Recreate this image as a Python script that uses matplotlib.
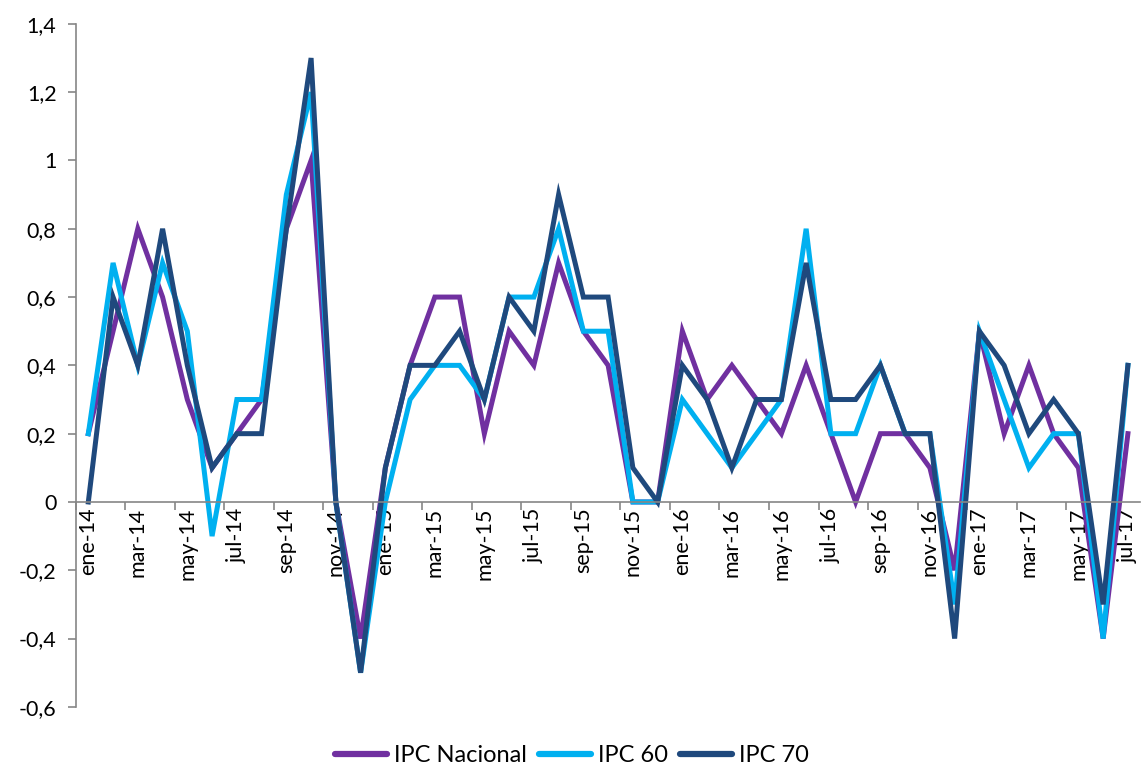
import matplotlib
matplotlib.use('Agg')
import matplotlib.pyplot as plt
from matplotlib.ticker import FuncFormatter, FixedLocator
import numpy as np

plt.rcParams['font.family'] = ['Lato', 'DejaVu Sans']

# Data
months = ['ene', 'feb', 'mar', 'abr', 'may', 'jun', 'jul', 'ago', 'sep', 'oct', 'nov', 'dic']
years = ['14', '15', '16', '17']
categories = [f'{m}-{y}' for y in years for m in months][:43]

ipc_nacional = [0.2, 0.5, 0.8, 0.6, 0.3, 0.1, 0.2, 0.3, 0.8, 1.0, 0.0, -0.4,
                0.1, 0.4, 0.6, 0.6, 0.2, 0.5, 0.4, 0.7, 0.5, 0.4, 0.0, 0.0,
                0.5, 0.3, 0.4, 0.3, 0.2, 0.4, 0.2, 0.0, 0.2, 0.2, 0.1, -0.2,
                0.5, 0.2, 0.4, 0.2, 0.1, -0.4, 0.2]
ipc_60 = [0.2, 0.7, 0.4, 0.7, 0.5, -0.1, 0.3, 0.3, 0.9, 1.2, 0.0, -0.5,
          0.0, 0.3, 0.4, 0.4, 0.3, 0.6, 0.6, 0.8, 0.5, 0.5, 0.0, 0.0,
          0.3, 0.2, 0.1, 0.2, 0.3, 0.8, 0.2, 0.2, 0.4, 0.2, 0.2, -0.3,
          0.5, 0.3, 0.1, 0.2, 0.2, -0.4, 0.4]
ipc_70 = [0.0, 0.6, 0.4, 0.8, 0.4, 0.1, 0.2, 0.2, 0.8, 1.3, 0.0, -0.5,
          0.1, 0.4, 0.4, 0.5, 0.3, 0.6, 0.5, 0.9, 0.6, 0.6, 0.1, 0.0,
          0.4, 0.3, 0.1, 0.3, 0.3, 0.7, 0.3, 0.3, 0.4, 0.2, 0.2, -0.4,
          0.5, 0.4, 0.2, 0.3, 0.2, -0.3, 0.4]

series = [('IPC Nacional', ipc_nacional, '#7030A0'),
          ('IPC 60', ipc_60, '#00B0F0'),
          ('IPC 70', ipc_70, '#1F497D')]

fig = plt.figure(figsize=(11.42, 7.70), dpi=100)
ax = fig.add_axes([0.0665, 0.082, 0.932, 0.887])

x = np.arange(len(categories))
for name, vals, color in series:
    ax.plot(x, vals, color=color, linewidth=3.6, label=name, solid_joinstyle='miter')

ax.set_xlim(-0.5, len(categories) - 0.5)
ax.set_ylim(-0.6, 1.4)
ax.set_yticks(np.arange(-0.6, 1.41, 0.2))
ax.yaxis.set_major_formatter(FuncFormatter(lambda v, p: f'{round(v, 1):g}'.replace('.', ',')))

gray = '#868686'
for s in ['top', 'right']:
    ax.spines[s].set_visible(False)
ax.spines['left'].set_color(gray)
ax.spines['bottom'].set_color(gray)
ax.spines['bottom'].set_position(('data', 0))
ax.spines['left'].set_linewidth(1.2)
ax.spines['bottom'].set_linewidth(1.2)

# tick marks at category boundaries, labels at category centres
ax.xaxis.set_major_locator(FixedLocator(np.arange(-0.5, len(categories), 2)))
ax.xaxis.set_major_formatter(FuncFormatter(lambda v, p: ''))
ax.xaxis.set_minor_locator(FixedLocator(np.arange(0, len(categories), 2)))
ax.set_xticklabels([categories[i] for i in range(0, len(categories), 2)], minor=True)
ax.tick_params(axis='x', which='major', direction='out', length=6, color=gray, width=1.2)
ax.tick_params(axis='x', which='minor', length=0, pad=4, labelsize=15.5, labelrotation=90)
ax.tick_params(axis='y', direction='out', length=6, color=gray, width=1.2, labelsize=15.5, pad=8)
for lab in ax.get_xticklabels(minor=True):
    lab.set_va('top')
    lab.set_ha('center')

leg = fig.legend(loc='center', bbox_to_anchor=(572 / 1142, 1 - 756 / 770), ncol=3, frameon=False,
                 fontsize=17, handlelength=2.2, handletextpad=0.3, columnspacing=0.5,
                 borderpad=0, borderaxespad=0)
for line in leg.get_lines():
    line.set_solid_capstyle('round')
    line.set_linewidth(4.5)

fig.savefig('out.png', dpi=100)
